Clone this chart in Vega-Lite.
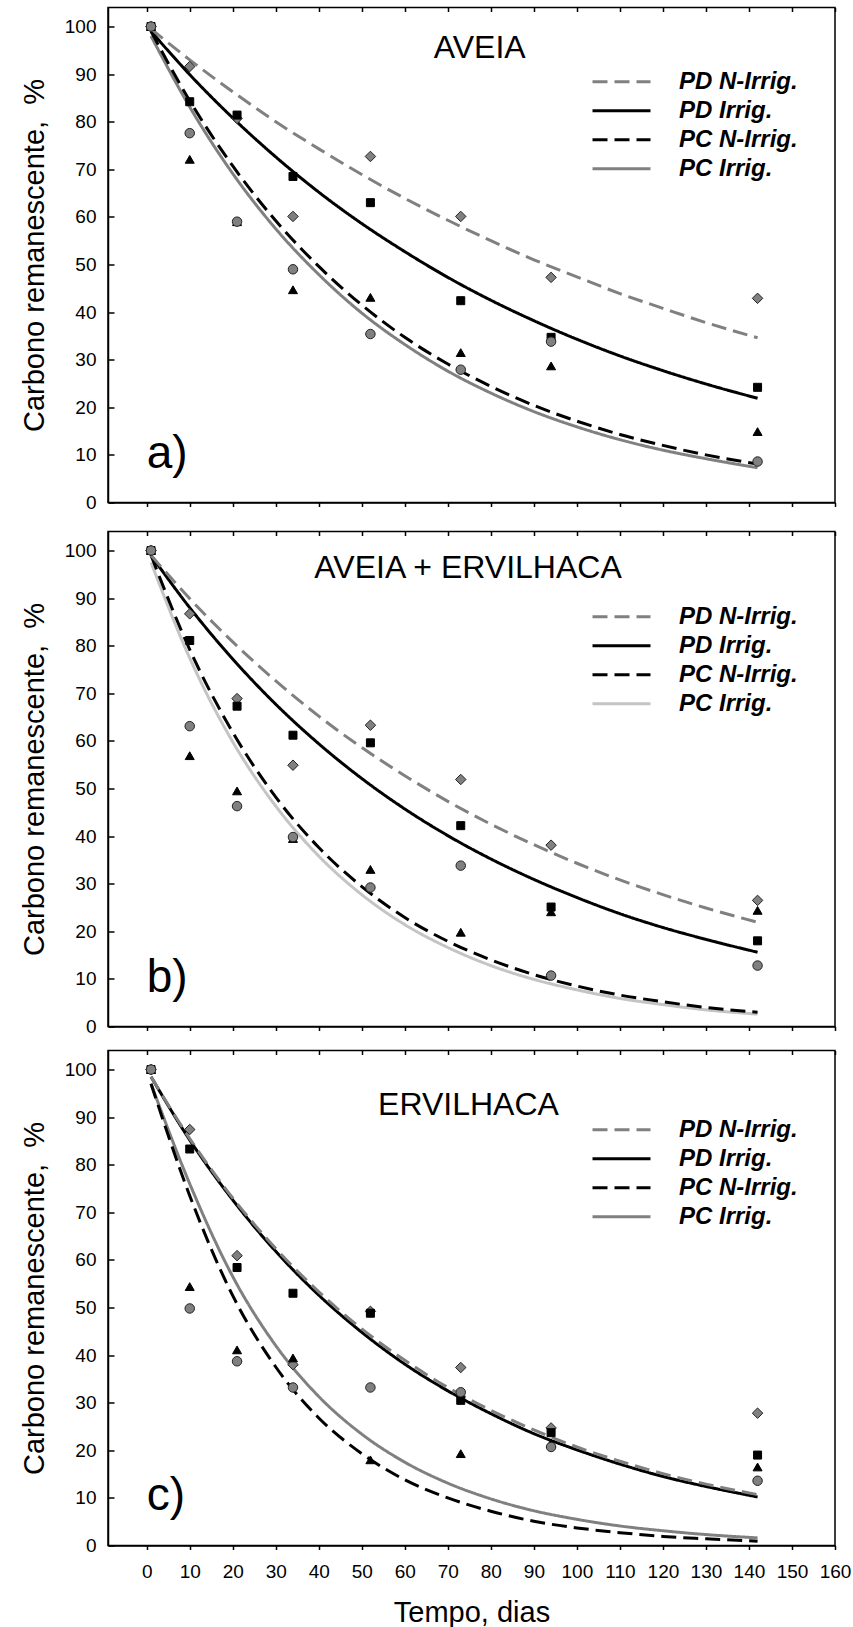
{
  "$schema": "https://vega.github.io/schema/vega-lite/v6.json",
  "padding": {"left": 19, "top": 6.5, "right": 2, "bottom": 0},
  "config": {
    "font": "Liberation Sans",
    "view": {"stroke": "#000000", "strokeWidth": 1.5},
    "axis": {
      "domainColor": "#000000", "domainWidth": 1.5,
      "tickColor": "#000000", "tickWidth": 1.5,
      "gridColor": "#000000", "gridWidth": 1.5, "gridOpacity": 1,
      "labelFont": "Liberation Sans", "labelFontSize": 19, "labelColor": "#000000",
      "labelFlush": false, "labelOverlap": false,
      "titleFont": "Liberation Sans", "titleFontSize": 29, "titleFontWeight": "normal", "titleColor": "#000000"
    },
    "legend": {
      "title": null, "orient": "none", "symbolType": "stroke", "symbolSize": 3364, "symbolStrokeWidth": 3,
      "clipHeight": 28.5, "rowPadding": 0, "labelOffset": 27, "labelFont": "Liberation Sans", "labelFontSize": 24,
      "labelFontWeight": "bold", "labelFontStyle": "italic", "labelColor": "#000000", "labelLimit": 400, "padding": 0
    }
  },
  "datasets": {
    "curvas": [
      {"painel":"a","serie":"PC Irrig.","dias":1,"carbono":98},{"painel":"a","serie":"PC Irrig.","dias":10,"carbono":83.1},{"painel":"a","serie":"PC Irrig.","dias":20,"carbono":69.1},{"painel":"a","serie":"PC Irrig.","dias":30,"carbono":57.5},{"painel":"a","serie":"PC Irrig.","dias":40,"carbono":47.9},{"painel":"a","serie":"PC Irrig.","dias":50,"carbono":39.8},{"painel":"a","serie":"PC Irrig.","dias":60,"carbono":33.2},{"painel":"a","serie":"PC Irrig.","dias":70,"carbono":27.6},{"painel":"a","serie":"PC Irrig.","dias":80,"carbono":23.0},{"painel":"a","serie":"PC Irrig.","dias":90,"carbono":19.1},{"painel":"a","serie":"PC Irrig.","dias":100,"carbono":15.9},{"painel":"a","serie":"PC Irrig.","dias":110,"carbono":13.2},{"painel":"a","serie":"PC Irrig.","dias":120,"carbono":11.0},{"painel":"a","serie":"PC Irrig.","dias":130,"carbono":9.2},{"painel":"a","serie":"PC Irrig.","dias":142,"carbono":7.3},
      {"painel":"a","serie":"PC N-Irrig.","dias":1,"carbono":99},{"painel":"a","serie":"PC N-Irrig.","dias":10,"carbono":84.4},{"painel":"a","serie":"PC N-Irrig.","dias":20,"carbono":70.7},{"painel":"a","serie":"PC N-Irrig.","dias":30,"carbono":59.2},{"painel":"a","serie":"PC N-Irrig.","dias":40,"carbono":49.6},{"painel":"a","serie":"PC N-Irrig.","dias":50,"carbono":41.5},{"painel":"a","serie":"PC N-Irrig.","dias":60,"carbono":34.7},{"painel":"a","serie":"PC N-Irrig.","dias":70,"carbono":29.1},{"painel":"a","serie":"PC N-Irrig.","dias":80,"carbono":24.4},{"painel":"a","serie":"PC N-Irrig.","dias":90,"carbono":20.4},{"painel":"a","serie":"PC N-Irrig.","dias":100,"carbono":17.1},{"painel":"a","serie":"PC N-Irrig.","dias":110,"carbono":14.3},{"painel":"a","serie":"PC N-Irrig.","dias":120,"carbono":12.0},{"painel":"a","serie":"PC N-Irrig.","dias":130,"carbono":10.0},{"painel":"a","serie":"PC N-Irrig.","dias":142,"carbono":8.1},
      {"painel":"a","serie":"PD Irrig.","dias":1,"carbono":99},{"painel":"a","serie":"PD Irrig.","dias":10,"carbono":89.9},{"painel":"a","serie":"PD Irrig.","dias":20,"carbono":80.8},{"painel":"a","serie":"PD Irrig.","dias":30,"carbono":72.6},{"painel":"a","serie":"PD Irrig.","dias":40,"carbono":65.2},{"painel":"a","serie":"PD Irrig.","dias":50,"carbono":58.6},{"painel":"a","serie":"PD Irrig.","dias":60,"carbono":52.7},{"painel":"a","serie":"PD Irrig.","dias":70,"carbono":47.3},{"painel":"a","serie":"PD Irrig.","dias":80,"carbono":42.5},{"painel":"a","serie":"PD Irrig.","dias":90,"carbono":38.2},{"painel":"a","serie":"PD Irrig.","dias":100,"carbono":34.3},{"painel":"a","serie":"PD Irrig.","dias":110,"carbono":30.8},{"painel":"a","serie":"PD Irrig.","dias":120,"carbono":27.7},{"painel":"a","serie":"PD Irrig.","dias":130,"carbono":24.9},{"painel":"a","serie":"PD Irrig.","dias":142,"carbono":21.9},
      {"painel":"a","serie":"PD N-Irrig.","dias":1,"carbono":99.5},{"painel":"a","serie":"PD N-Irrig.","dias":10,"carbono":93.0},{"painel":"a","serie":"PD N-Irrig.","dias":20,"carbono":86.3},{"painel":"a","serie":"PD N-Irrig.","dias":30,"carbono":80.0},{"painel":"a","serie":"PD N-Irrig.","dias":40,"carbono":74.3},{"painel":"a","serie":"PD N-Irrig.","dias":50,"carbono":68.9},{"painel":"a","serie":"PD N-Irrig.","dias":60,"carbono":63.9},{"painel":"a","serie":"PD N-Irrig.","dias":70,"carbono":59.3},{"painel":"a","serie":"PD N-Irrig.","dias":80,"carbono":55.0},{"painel":"a","serie":"PD N-Irrig.","dias":90,"carbono":51.0},{"painel":"a","serie":"PD N-Irrig.","dias":100,"carbono":47.4},{"painel":"a","serie":"PD N-Irrig.","dias":110,"carbono":43.9},{"painel":"a","serie":"PD N-Irrig.","dias":120,"carbono":40.8},{"painel":"a","serie":"PD N-Irrig.","dias":130,"carbono":37.8},{"painel":"a","serie":"PD N-Irrig.","dias":142,"carbono":34.6},
      {"painel":"b","serie":"PC Irrig.","dias":1,"carbono":97.5},{"painel":"b","serie":"PC Irrig.","dias":10,"carbono":77.4},{"painel":"b","serie":"PC Irrig.","dias":20,"carbono":59.8},{"painel":"b","serie":"PC Irrig.","dias":30,"carbono":46.3},{"painel":"b","serie":"PC Irrig.","dias":40,"carbono":35.8},{"painel":"b","serie":"PC Irrig.","dias":50,"carbono":27.7},{"painel":"b","serie":"PC Irrig.","dias":60,"carbono":21.4},{"painel":"b","serie":"PC Irrig.","dias":70,"carbono":16.6},{"painel":"b","serie":"PC Irrig.","dias":80,"carbono":12.8},{"painel":"b","serie":"PC Irrig.","dias":90,"carbono":9.9},{"painel":"b","serie":"PC Irrig.","dias":100,"carbono":7.7},{"painel":"b","serie":"PC Irrig.","dias":110,"carbono":5.9},{"painel":"b","serie":"PC Irrig.","dias":120,"carbono":4.6},{"painel":"b","serie":"PC Irrig.","dias":130,"carbono":3.5},{"painel":"b","serie":"PC Irrig.","dias":142,"carbono":2.6},
      {"painel":"b","serie":"PC N-Irrig.","dias":1,"carbono":99},{"painel":"b","serie":"PC N-Irrig.","dias":10,"carbono":79.2},{"painel":"b","serie":"PC N-Irrig.","dias":20,"carbono":61.8},{"painel":"b","serie":"PC N-Irrig.","dias":30,"carbono":48.2},{"painel":"b","serie":"PC N-Irrig.","dias":40,"carbono":37.6},{"painel":"b","serie":"PC N-Irrig.","dias":50,"carbono":29.4},{"painel":"b","serie":"PC N-Irrig.","dias":60,"carbono":22.9},{"painel":"b","serie":"PC N-Irrig.","dias":70,"carbono":17.9},{"painel":"b","serie":"PC N-Irrig.","dias":80,"carbono":14.0},{"painel":"b","serie":"PC N-Irrig.","dias":90,"carbono":10.9},{"painel":"b","serie":"PC N-Irrig.","dias":100,"carbono":8.5},{"painel":"b","serie":"PC N-Irrig.","dias":110,"carbono":6.6},{"painel":"b","serie":"PC N-Irrig.","dias":120,"carbono":5.2},{"painel":"b","serie":"PC N-Irrig.","dias":130,"carbono":4.0},{"painel":"b","serie":"PC N-Irrig.","dias":142,"carbono":3.0},
      {"painel":"b","serie":"PD Irrig.","dias":1,"carbono":99},{"painel":"b","serie":"PD Irrig.","dias":10,"carbono":88.0},{"painel":"b","serie":"PD Irrig.","dias":20,"carbono":77.2},{"painel":"b","serie":"PD Irrig.","dias":30,"carbono":67.7},{"painel":"b","serie":"PD Irrig.","dias":40,"carbono":59.4},{"painel":"b","serie":"PD Irrig.","dias":50,"carbono":52.1},{"painel":"b","serie":"PD Irrig.","dias":60,"carbono":45.7},{"painel":"b","serie":"PD Irrig.","dias":70,"carbono":40.1},{"painel":"b","serie":"PD Irrig.","dias":80,"carbono":35.2},{"painel":"b","serie":"PD Irrig.","dias":90,"carbono":30.9},{"painel":"b","serie":"PD Irrig.","dias":100,"carbono":27.1},{"painel":"b","serie":"PD Irrig.","dias":110,"carbono":23.7},{"painel":"b","serie":"PD Irrig.","dias":120,"carbono":20.8},{"painel":"b","serie":"PD Irrig.","dias":130,"carbono":18.3},{"painel":"b","serie":"PD Irrig.","dias":142,"carbono":15.6},
      {"painel":"b","serie":"PD N-Irrig.","dias":1,"carbono":99},{"painel":"b","serie":"PD N-Irrig.","dias":10,"carbono":89.9},{"painel":"b","serie":"PD N-Irrig.","dias":20,"carbono":80.8},{"painel":"b","serie":"PD N-Irrig.","dias":30,"carbono":72.6},{"painel":"b","serie":"PD N-Irrig.","dias":40,"carbono":65.2},{"painel":"b","serie":"PD N-Irrig.","dias":50,"carbono":58.6},{"painel":"b","serie":"PD N-Irrig.","dias":60,"carbono":52.7},{"painel":"b","serie":"PD N-Irrig.","dias":70,"carbono":47.3},{"painel":"b","serie":"PD N-Irrig.","dias":80,"carbono":42.5},{"painel":"b","serie":"PD N-Irrig.","dias":90,"carbono":38.2},{"painel":"b","serie":"PD N-Irrig.","dias":100,"carbono":34.3},{"painel":"b","serie":"PD N-Irrig.","dias":110,"carbono":30.8},{"painel":"b","serie":"PD N-Irrig.","dias":120,"carbono":27.7},{"painel":"b","serie":"PD N-Irrig.","dias":130,"carbono":24.9},{"painel":"b","serie":"PD N-Irrig.","dias":142,"carbono":21.9},
      {"painel":"c","serie":"PC Irrig.","dias":1,"carbono":97},{"painel":"c","serie":"PC Irrig.","dias":10,"carbono":76},{"painel":"c","serie":"PC Irrig.","dias":20,"carbono":56.5},{"painel":"c","serie":"PC Irrig.","dias":30,"carbono":42},{"painel":"c","serie":"PC Irrig.","dias":40,"carbono":31.3},{"painel":"c","serie":"PC Irrig.","dias":50,"carbono":23.4},{"painel":"c","serie":"PC Irrig.","dias":60,"carbono":17.5},{"painel":"c","serie":"PC Irrig.","dias":70,"carbono":13.1},{"painel":"c","serie":"PC Irrig.","dias":80,"carbono":9.8},{"painel":"c","serie":"PC Irrig.","dias":90,"carbono":7.3},{"painel":"c","serie":"PC Irrig.","dias":100,"carbono":5.5},{"painel":"c","serie":"PC Irrig.","dias":110,"carbono":4.1},{"painel":"c","serie":"PC Irrig.","dias":120,"carbono":3.1},{"painel":"c","serie":"PC Irrig.","dias":130,"carbono":2.3},{"painel":"c","serie":"PC Irrig.","dias":142,"carbono":1.6},
      {"painel":"c","serie":"PC N-Irrig.","dias":1,"carbono":97},{"painel":"c","serie":"PC N-Irrig.","dias":10,"carbono":73.5},{"painel":"c","serie":"PC N-Irrig.","dias":20,"carbono":52.5},{"painel":"c","serie":"PC N-Irrig.","dias":30,"carbono":37.5},{"painel":"c","serie":"PC N-Irrig.","dias":40,"carbono":26.8},{"painel":"c","serie":"PC N-Irrig.","dias":50,"carbono":19.3},{"painel":"c","serie":"PC N-Irrig.","dias":60,"carbono":13.8},{"painel":"c","serie":"PC N-Irrig.","dias":70,"carbono":10.0},{"painel":"c","serie":"PC N-Irrig.","dias":80,"carbono":7.2},{"painel":"c","serie":"PC N-Irrig.","dias":90,"carbono":5.1},{"painel":"c","serie":"PC N-Irrig.","dias":100,"carbono":3.7},{"painel":"c","serie":"PC N-Irrig.","dias":110,"carbono":2.7},{"painel":"c","serie":"PC N-Irrig.","dias":120,"carbono":1.9},{"painel":"c","serie":"PC N-Irrig.","dias":130,"carbono":1.4},{"painel":"c","serie":"PC N-Irrig.","dias":142,"carbono":0.9},
      {"painel":"c","serie":"PD Irrig.","dias":1,"carbono":98.5},{"painel":"c","serie":"PD Irrig.","dias":10,"carbono":85.2},{"painel":"c","serie":"PD Irrig.","dias":20,"carbono":72.6},{"painel":"c","serie":"PD Irrig.","dias":30,"carbono":61.8},{"painel":"c","serie":"PD Irrig.","dias":40,"carbono":52.6},{"painel":"c","serie":"PD Irrig.","dias":50,"carbono":44.8},{"painel":"c","serie":"PD Irrig.","dias":60,"carbono":38.1},{"painel":"c","serie":"PD Irrig.","dias":70,"carbono":32.5},{"painel":"c","serie":"PD Irrig.","dias":80,"carbono":27.7},{"painel":"c","serie":"PD Irrig.","dias":90,"carbono":23.5},{"painel":"c","serie":"PD Irrig.","dias":100,"carbono":20.1},{"painel":"c","serie":"PD Irrig.","dias":110,"carbono":17.1},{"painel":"c","serie":"PD Irrig.","dias":120,"carbono":14.5},{"painel":"c","serie":"PD Irrig.","dias":130,"carbono":12.4},{"painel":"c","serie":"PD Irrig.","dias":142,"carbono":10.2},
      {"painel":"c","serie":"PD N-Irrig.","dias":1,"carbono":98.5},{"painel":"c","serie":"PD N-Irrig.","dias":10,"carbono":85.5},{"painel":"c","serie":"PD N-Irrig.","dias":20,"carbono":73.0},{"painel":"c","serie":"PD N-Irrig.","dias":30,"carbono":62.4},{"painel":"c","serie":"PD N-Irrig.","dias":40,"carbono":53.3},{"painel":"c","serie":"PD N-Irrig.","dias":50,"carbono":45.5},{"painel":"c","serie":"PD N-Irrig.","dias":60,"carbono":38.9},{"painel":"c","serie":"PD N-Irrig.","dias":70,"carbono":33.2},{"painel":"c","serie":"PD N-Irrig.","dias":80,"carbono":28.4},{"painel":"c","serie":"PD N-Irrig.","dias":90,"carbono":24.3},{"painel":"c","serie":"PD N-Irrig.","dias":100,"carbono":20.7},{"painel":"c","serie":"PD N-Irrig.","dias":110,"carbono":17.7},{"painel":"c","serie":"PD N-Irrig.","dias":120,"carbono":15.1},{"painel":"c","serie":"PD N-Irrig.","dias":130,"carbono":12.9},{"painel":"c","serie":"PD N-Irrig.","dias":142,"carbono":10.7}
    ],
    "pontos": [
      {"painel":"a","tratamento":"PD N-Irrig.","dias":1,"carbono":100},{"painel":"a","tratamento":"PD N-Irrig.","dias":10,"carbono":91.6},{"painel":"a","tratamento":"PD N-Irrig.","dias":21,"carbono":80.7},{"painel":"a","tratamento":"PD N-Irrig.","dias":34,"carbono":60.1},{"painel":"a","tratamento":"PD N-Irrig.","dias":52,"carbono":72.7},{"painel":"a","tratamento":"PD N-Irrig.","dias":73,"carbono":60.1},{"painel":"a","tratamento":"PD N-Irrig.","dias":94,"carbono":47.3},{"painel":"a","tratamento":"PD N-Irrig.","dias":142,"carbono":42.9},
      {"painel":"a","tratamento":"PD Irrig.","dias":1,"carbono":100},{"painel":"a","tratamento":"PD Irrig.","dias":10,"carbono":84.2},{"painel":"a","tratamento":"PD Irrig.","dias":21,"carbono":81.4},{"painel":"a","tratamento":"PD Irrig.","dias":34,"carbono":68.5},{"painel":"a","tratamento":"PD Irrig.","dias":52,"carbono":63.0},{"painel":"a","tratamento":"PD Irrig.","dias":73,"carbono":42.4},{"painel":"a","tratamento":"PD Irrig.","dias":94,"carbono":34.7},{"painel":"a","tratamento":"PD Irrig.","dias":142,"carbono":24.2},
      {"painel":"a","tratamento":"PC N-Irrig.","dias":1,"carbono":100},{"painel":"a","tratamento":"PC N-Irrig.","dias":10,"carbono":72.1},{"painel":"a","tratamento":"PC N-Irrig.","dias":21,"carbono":59.0},{"painel":"a","tratamento":"PC N-Irrig.","dias":34,"carbono":44.7},{"painel":"a","tratamento":"PC N-Irrig.","dias":52,"carbono":43.1},{"painel":"a","tratamento":"PC N-Irrig.","dias":73,"carbono":31.5},{"painel":"a","tratamento":"PC N-Irrig.","dias":94,"carbono":28.7},{"painel":"a","tratamento":"PC N-Irrig.","dias":142,"carbono":14.9},
      {"painel":"a","tratamento":"PC Irrig.","dias":1,"carbono":100},{"painel":"a","tratamento":"PC Irrig.","dias":10,"carbono":77.6},{"painel":"a","tratamento":"PC Irrig.","dias":21,"carbono":59.0},{"painel":"a","tratamento":"PC Irrig.","dias":34,"carbono":49.0},{"painel":"a","tratamento":"PC Irrig.","dias":52,"carbono":35.4},{"painel":"a","tratamento":"PC Irrig.","dias":73,"carbono":27.9},{"painel":"a","tratamento":"PC Irrig.","dias":94,"carbono":33.8},{"painel":"a","tratamento":"PC Irrig.","dias":142,"carbono":8.6},
      {"painel":"b","tratamento":"PD N-Irrig.","dias":1,"carbono":100},{"painel":"b","tratamento":"PD N-Irrig.","dias":10,"carbono":86.7},{"painel":"b","tratamento":"PD N-Irrig.","dias":21,"carbono":68.9},{"painel":"b","tratamento":"PD N-Irrig.","dias":34,"carbono":54.9},{"painel":"b","tratamento":"PD N-Irrig.","dias":52,"carbono":63.3},{"painel":"b","tratamento":"PD N-Irrig.","dias":73,"carbono":51.9},{"painel":"b","tratamento":"PD N-Irrig.","dias":94,"carbono":38.1},{"painel":"b","tratamento":"PD N-Irrig.","dias":142,"carbono":26.5},
      {"painel":"b","tratamento":"PD Irrig.","dias":1,"carbono":100},{"painel":"b","tratamento":"PD Irrig.","dias":10,"carbono":81.1},{"painel":"b","tratamento":"PD Irrig.","dias":21,"carbono":67.3},{"painel":"b","tratamento":"PD Irrig.","dias":34,"carbono":61.2},{"painel":"b","tratamento":"PD Irrig.","dias":52,"carbono":59.6},{"painel":"b","tratamento":"PD Irrig.","dias":73,"carbono":42.2},{"painel":"b","tratamento":"PD Irrig.","dias":94,"carbono":25.1},{"painel":"b","tratamento":"PD Irrig.","dias":142,"carbono":18.0},
      {"painel":"b","tratamento":"PC N-Irrig.","dias":1,"carbono":100},{"painel":"b","tratamento":"PC N-Irrig.","dias":10,"carbono":56.9},{"painel":"b","tratamento":"PC N-Irrig.","dias":21,"carbono":49.5},{"painel":"b","tratamento":"PC N-Irrig.","dias":34,"carbono":39.5},{"painel":"b","tratamento":"PC N-Irrig.","dias":52,"carbono":33.0},{"painel":"b","tratamento":"PC N-Irrig.","dias":73,"carbono":19.8},{"painel":"b","tratamento":"PC N-Irrig.","dias":94,"carbono":24.1},{"painel":"b","tratamento":"PC N-Irrig.","dias":142,"carbono":24.4},
      {"painel":"b","tratamento":"PC Irrig.","dias":1,"carbono":100},{"painel":"b","tratamento":"PC Irrig.","dias":10,"carbono":63.1},{"painel":"b","tratamento":"PC Irrig.","dias":21,"carbono":46.3},{"painel":"b","tratamento":"PC Irrig.","dias":34,"carbono":39.8},{"painel":"b","tratamento":"PC Irrig.","dias":52,"carbono":29.2},{"painel":"b","tratamento":"PC Irrig.","dias":73,"carbono":33.8},{"painel":"b","tratamento":"PC Irrig.","dias":94,"carbono":10.7},{"painel":"b","tratamento":"PC Irrig.","dias":142,"carbono":12.8},
      {"painel":"c","tratamento":"PD N-Irrig.","dias":1,"carbono":100},{"painel":"c","tratamento":"PD N-Irrig.","dias":10,"carbono":87.4},{"painel":"c","tratamento":"PD N-Irrig.","dias":21,"carbono":60.9},{"painel":"c","tratamento":"PD N-Irrig.","dias":34,"carbono":38.0},{"painel":"c","tratamento":"PD N-Irrig.","dias":52,"carbono":49.2},{"painel":"c","tratamento":"PD N-Irrig.","dias":73,"carbono":37.4},{"painel":"c","tratamento":"PD N-Irrig.","dias":94,"carbono":24.7},{"painel":"c","tratamento":"PD N-Irrig.","dias":142,"carbono":27.8},
      {"painel":"c","tratamento":"PD Irrig.","dias":1,"carbono":100},{"painel":"c","tratamento":"PD Irrig.","dias":10,"carbono":83.3},{"painel":"c","tratamento":"PD Irrig.","dias":21,"carbono":58.4},{"painel":"c","tratamento":"PD Irrig.","dias":34,"carbono":53.0},{"painel":"c","tratamento":"PD Irrig.","dias":52,"carbono":48.8},{"painel":"c","tratamento":"PD Irrig.","dias":73,"carbono":30.5},{"painel":"c","tratamento":"PD Irrig.","dias":94,"carbono":23.7},{"painel":"c","tratamento":"PD Irrig.","dias":142,"carbono":19.0},
      {"painel":"c","tratamento":"PC N-Irrig.","dias":1,"carbono":100},{"painel":"c","tratamento":"PC N-Irrig.","dias":10,"carbono":54.4},{"painel":"c","tratamento":"PC N-Irrig.","dias":21,"carbono":41.1},{"painel":"c","tratamento":"PC N-Irrig.","dias":34,"carbono":39.4},{"painel":"c","tratamento":"PC N-Irrig.","dias":52,"carbono":18.0},{"painel":"c","tratamento":"PC N-Irrig.","dias":73,"carbono":19.3},{"painel":"c","tratamento":"PC N-Irrig.","dias":94,"carbono":21.5},{"painel":"c","tratamento":"PC N-Irrig.","dias":142,"carbono":16.5},
      {"painel":"c","tratamento":"PC Irrig.","dias":1,"carbono":100},{"painel":"c","tratamento":"PC Irrig.","dias":10,"carbono":49.8},{"painel":"c","tratamento":"PC Irrig.","dias":21,"carbono":38.7},{"painel":"c","tratamento":"PC Irrig.","dias":34,"carbono":33.2},{"painel":"c","tratamento":"PC Irrig.","dias":52,"carbono":33.2},{"painel":"c","tratamento":"PC Irrig.","dias":73,"carbono":32.2},{"painel":"c","tratamento":"PC Irrig.","dias":94,"carbono":20.7},{"painel":"c","tratamento":"PC Irrig.","dias":142,"carbono":13.6}
    ],
    "rotulos": [
      {"painel":"a","titulo":"AVEIA","letra":"a)"},
      {"painel":"b","titulo":"AVEIA + ERVILHACA","letra":"b)"},
      {"painel":"c","titulo":"ERVILHACA","letra":"c)"}
    ]
  },
  "bounds": "flush",
  "spacing": 29,
  "resolve": {
    "scale": {"x": "independent", "y": "independent", "color": "independent", "strokeDash": "independent"},
    "legend": {"color": "independent", "strokeDash": "independent"}
  },
  "vconcat": [
    {
      "width": 727, "height": 495,
      "layer": [
        {
          "data": {"name": "curvas"},
          "transform": [{"filter": "datum.painel === 'a'"}],
          "mark": {"type": "line", "strokeWidth": 3, "interpolate": "monotone"},
          "encoding": {
            "x": {"field": "dias", "type": "quantitative", "scale": {"domain": [-9, 160], "nice": false, "zero": false},
                  "axis": {"values": [0,10,20,30,40,50,60,70,80,90,100,110,120,130,140,150,160], "labels": false, "title": null, "tickSize": 4, "grid": true, "gridDash": [4, 3000]}},
            "y": {"field": "carbono", "type": "quantitative", "scale": {"domain": [0, 104], "nice": false},
                  "axis": {"values": [0,5,10,15,20,25,30,35,40,45,50,55,60,65,70,75,80,85,90,95,100], "labelExpr": "datum.value % 10 === 0 ? datum.label : ''", "ticks": false, "grid": true, "gridDash": [6, 3000], "labelPadding": 12, "title": "Carbono remanescente, \u00a0%", "titlePadding": 15}},
            "color": {"field": "serie", "type": "nominal",
                      "scale": {"domain": ["PD N-Irrig.","PD Irrig.","PC N-Irrig.","PC Irrig."], "range": ["#808080","#000000","#000000","#808080"]},
                      "legend": {"legendX": 483, "legendY": 60}},
            "strokeDash": {"field": "serie", "type": "nominal",
                      "scale": {"domain": ["PD N-Irrig.","PD Irrig.","PC N-Irrig.","PC Irrig."], "range": [[15,7],[1,0],[15,7],[1,0]]},
                      "legend": {"legendX": 483, "legendY": 60}}
          }
        },
        {"data": {"name": "pontos"}, "transform": [{"filter": "datum.painel === 'a' && datum.tratamento === 'PD N-Irrig.'"}],
         "mark": {"type": "point", "shape": "diamond", "filled": true, "fill": "#808080", "stroke": "#222222", "strokeWidth": 1, "size": 110, "opacity": 1},
         "encoding": {"x": {"field": "dias", "type": "quantitative"}, "y": {"field": "carbono", "type": "quantitative"}}},
        {"data": {"name": "pontos"}, "transform": [{"filter": "datum.painel === 'a' && datum.tratamento === 'PD Irrig.'"}],
         "mark": {"type": "point", "shape": "square", "filled": true, "fill": "#000000", "stroke": "#000000", "strokeWidth": 1, "size": 64, "opacity": 1},
         "encoding": {"x": {"field": "dias", "type": "quantitative"}, "y": {"field": "carbono", "type": "quantitative"}}},
        {"data": {"name": "pontos"}, "transform": [{"filter": "datum.painel === 'a' && datum.tratamento === 'PC N-Irrig.'"}],
         "mark": {"type": "point", "shape": "triangle-up", "filled": true, "fill": "#000000", "stroke": "#000000", "strokeWidth": 1, "size": 81, "opacity": 1},
         "encoding": {"x": {"field": "dias", "type": "quantitative"}, "y": {"field": "carbono", "type": "quantitative"}}},
        {"data": {"name": "pontos"}, "transform": [{"filter": "datum.painel === 'a' && datum.tratamento === 'PC Irrig.'"}],
         "mark": {"type": "point", "shape": "circle", "filled": true, "fill": "#808080", "stroke": "#222222", "strokeWidth": 1, "size": 90, "opacity": 1},
         "encoding": {"x": {"field": "dias", "type": "quantitative"}, "y": {"field": "carbono", "type": "quantitative"}}},
        {
          "data": {"name": "rotulos"},
          "transform": [{"filter": "datum.painel === 'a'"}],
          "mark": {"type": "text", "font": "Liberation Sans", "fontSize": 32, "align": "center", "baseline": "alphabetic", "color": "#000000"},
          "encoding": {"x": {"datum": 77.4, "type": "quantitative"}, "y": {"datum": 93.4, "type": "quantitative"}, "text": {"field": "titulo"}}
        },
        {
          "data": {"name": "rotulos"},
          "transform": [{"filter": "datum.painel === 'a'"}],
          "mark": {"type": "text", "font": "Liberation Sans", "fontSize": 46, "align": "left", "baseline": "alphabetic", "color": "#000000"},
          "encoding": {"x": {"datum": 0, "type": "quantitative"}, "y": {"datum": 7.2, "type": "quantitative"}, "text": {"field": "letra"}}
        }
      ]
    },
    {
      "bounds": "flush",
      "spacing": 24,
      "resolve": {
        "scale": {"x": "independent", "y": "independent", "color": "independent", "strokeDash": "independent"},
        "legend": {"color": "independent", "strokeDash": "independent"}
      },
      "vconcat": [
        {
          "width": 727, "height": 495,
          "layer": [
            {
              "data": {"name": "curvas"},
              "transform": [{"filter": "datum.painel === 'b'"}],
              "mark": {"type": "line", "strokeWidth": 3, "interpolate": "monotone"},
              "encoding": {
                "x": {"field": "dias", "type": "quantitative", "scale": {"domain": [-9, 160], "nice": false, "zero": false},
                      "axis": {"values": [0,10,20,30,40,50,60,70,80,90,100,110,120,130,140,150,160], "labels": false, "title": null, "tickSize": 4, "grid": true, "gridDash": [4, 3000]}},
                "y": {"field": "carbono", "type": "quantitative", "scale": {"domain": [0, 104], "nice": false},
                      "axis": {"values": [0,5,10,15,20,25,30,35,40,45,50,55,60,65,70,75,80,85,90,95,100], "labelExpr": "datum.value % 10 === 0 ? datum.label : ''", "ticks": false, "grid": true, "gridDash": [6, 3000], "labelPadding": 12, "title": "Carbono remanescente, \u00a0%", "titlePadding": 15}},
                "color": {"field": "serie", "type": "nominal",
                          "scale": {"domain": ["PD N-Irrig.","PD Irrig.","PC N-Irrig.","PC Irrig."], "range": ["#808080","#000000","#000000","#c4c4c4"]},
                          "legend": {"legendX": 483, "legendY": 71}},
                "strokeDash": {"field": "serie", "type": "nominal",
                          "scale": {"domain": ["PD N-Irrig.","PD Irrig.","PC N-Irrig.","PC Irrig."], "range": [[15,7],[1,0],[15,7],[1,0]]},
                          "legend": {"legendX": 483, "legendY": 71}}
              }
            },
            {"data": {"name": "pontos"}, "transform": [{"filter": "datum.painel === 'b' && datum.tratamento === 'PD N-Irrig.'"}],
             "mark": {"type": "point", "shape": "diamond", "filled": true, "fill": "#808080", "stroke": "#222222", "strokeWidth": 1, "size": 110, "opacity": 1},
             "encoding": {"x": {"field": "dias", "type": "quantitative"}, "y": {"field": "carbono", "type": "quantitative"}}},
            {"data": {"name": "pontos"}, "transform": [{"filter": "datum.painel === 'b' && datum.tratamento === 'PD Irrig.'"}],
             "mark": {"type": "point", "shape": "square", "filled": true, "fill": "#000000", "stroke": "#000000", "strokeWidth": 1, "size": 64, "opacity": 1},
             "encoding": {"x": {"field": "dias", "type": "quantitative"}, "y": {"field": "carbono", "type": "quantitative"}}},
            {"data": {"name": "pontos"}, "transform": [{"filter": "datum.painel === 'b' && datum.tratamento === 'PC N-Irrig.'"}],
             "mark": {"type": "point", "shape": "triangle-up", "filled": true, "fill": "#000000", "stroke": "#000000", "strokeWidth": 1, "size": 81, "opacity": 1},
             "encoding": {"x": {"field": "dias", "type": "quantitative"}, "y": {"field": "carbono", "type": "quantitative"}}},
            {"data": {"name": "pontos"}, "transform": [{"filter": "datum.painel === 'b' && datum.tratamento === 'PC Irrig.'"}],
             "mark": {"type": "point", "shape": "circle", "filled": true, "fill": "#808080", "stroke": "#222222", "strokeWidth": 1, "size": 90, "opacity": 1},
             "encoding": {"x": {"field": "dias", "type": "quantitative"}, "y": {"field": "carbono", "type": "quantitative"}}},
            {
              "data": {"name": "rotulos"},
              "transform": [{"filter": "datum.painel === 'b'"}],
              "mark": {"type": "text", "font": "Liberation Sans", "fontSize": 32, "align": "center", "baseline": "alphabetic", "color": "#000000"},
              "encoding": {"x": {"datum": 74.7, "type": "quantitative"}, "y": {"datum": 94.2, "type": "quantitative"}, "text": {"field": "titulo"}}
            },
            {
              "data": {"name": "rotulos"},
              "transform": [{"filter": "datum.painel === 'b'"}],
              "mark": {"type": "text", "font": "Liberation Sans", "fontSize": 46, "align": "left", "baseline": "alphabetic", "color": "#000000"},
              "encoding": {"x": {"datum": 0, "type": "quantitative"}, "y": {"datum": 7.2, "type": "quantitative"}, "text": {"field": "letra"}}
            }
          ]
        },
        {
          "width": 727, "height": 495,
          "layer": [
            {
              "data": {"name": "curvas"},
              "transform": [{"filter": "datum.painel === 'c'"}],
              "mark": {"type": "line", "strokeWidth": 3, "interpolate": "monotone"},
              "encoding": {
                "x": {"field": "dias", "type": "quantitative", "scale": {"domain": [-9, 160], "nice": false, "zero": false},
                      "axis": {"values": [0,10,20,30,40,50,60,70,80,90,100,110,120,130,140,150,160], "tickSize": 4, "grid": true, "gridDash": [4, 3000], "labelPadding": 13, "title": "Tempo, dias", "titlePadding": 17}},
                "y": {"field": "carbono", "type": "quantitative", "scale": {"domain": [0, 104], "nice": false},
                      "axis": {"values": [0,5,10,15,20,25,30,35,40,45,50,55,60,65,70,75,80,85,90,95,100], "labelExpr": "datum.value % 10 === 0 ? datum.label : ''", "ticks": false, "grid": true, "gridDash": [6, 3000], "labelPadding": 12, "title": "Carbono remanescente, \u00a0%", "titlePadding": 15}},
                "color": {"field": "serie", "type": "nominal",
                          "scale": {"domain": ["PD N-Irrig.","PD Irrig.","PC N-Irrig.","PC Irrig."], "range": ["#808080","#000000","#000000","#808080"]},
                          "legend": {"legendX": 483, "legendY": 65}},
                "strokeDash": {"field": "serie", "type": "nominal",
                          "scale": {"domain": ["PD N-Irrig.","PD Irrig.","PC N-Irrig.","PC Irrig."], "range": [[15,7],[1,0],[15,7],[1,0]]},
                          "legend": {"legendX": 483, "legendY": 65}}
              }
            },
            {"data": {"name": "pontos"}, "transform": [{"filter": "datum.painel === 'c' && datum.tratamento === 'PD N-Irrig.'"}],
             "mark": {"type": "point", "shape": "diamond", "filled": true, "fill": "#808080", "stroke": "#222222", "strokeWidth": 1, "size": 110, "opacity": 1},
             "encoding": {"x": {"field": "dias", "type": "quantitative"}, "y": {"field": "carbono", "type": "quantitative"}}},
            {"data": {"name": "pontos"}, "transform": [{"filter": "datum.painel === 'c' && datum.tratamento === 'PD Irrig.'"}],
             "mark": {"type": "point", "shape": "square", "filled": true, "fill": "#000000", "stroke": "#000000", "strokeWidth": 1, "size": 64, "opacity": 1},
             "encoding": {"x": {"field": "dias", "type": "quantitative"}, "y": {"field": "carbono", "type": "quantitative"}}},
            {"data": {"name": "pontos"}, "transform": [{"filter": "datum.painel === 'c' && datum.tratamento === 'PC N-Irrig.'"}],
             "mark": {"type": "point", "shape": "triangle-up", "filled": true, "fill": "#000000", "stroke": "#000000", "strokeWidth": 1, "size": 81, "opacity": 1},
             "encoding": {"x": {"field": "dias", "type": "quantitative"}, "y": {"field": "carbono", "type": "quantitative"}}},
            {"data": {"name": "pontos"}, "transform": [{"filter": "datum.painel === 'c' && datum.tratamento === 'PC Irrig.'"}],
             "mark": {"type": "point", "shape": "circle", "filled": true, "fill": "#808080", "stroke": "#222222", "strokeWidth": 1, "size": 90, "opacity": 1},
             "encoding": {"x": {"field": "dias", "type": "quantitative"}, "y": {"field": "carbono", "type": "quantitative"}}},
            {
              "data": {"name": "rotulos"},
              "transform": [{"filter": "datum.painel === 'c'"}],
              "mark": {"type": "text", "font": "Liberation Sans", "fontSize": 32, "align": "center", "baseline": "alphabetic", "color": "#000000"},
              "encoding": {"x": {"datum": 74.8, "type": "quantitative"}, "y": {"datum": 90.5, "type": "quantitative"}, "text": {"field": "titulo"}}
            },
            {
              "data": {"name": "rotulos"},
              "transform": [{"filter": "datum.painel === 'c'"}],
              "mark": {"type": "text", "font": "Liberation Sans", "fontSize": 46, "align": "left", "baseline": "alphabetic", "color": "#000000"},
              "encoding": {"x": {"datum": 0, "type": "quantitative"}, "y": {"datum": 7.4, "type": "quantitative"}, "text": {"field": "letra"}}
            }
          ]
        }
      ]
    }
  ]
}
